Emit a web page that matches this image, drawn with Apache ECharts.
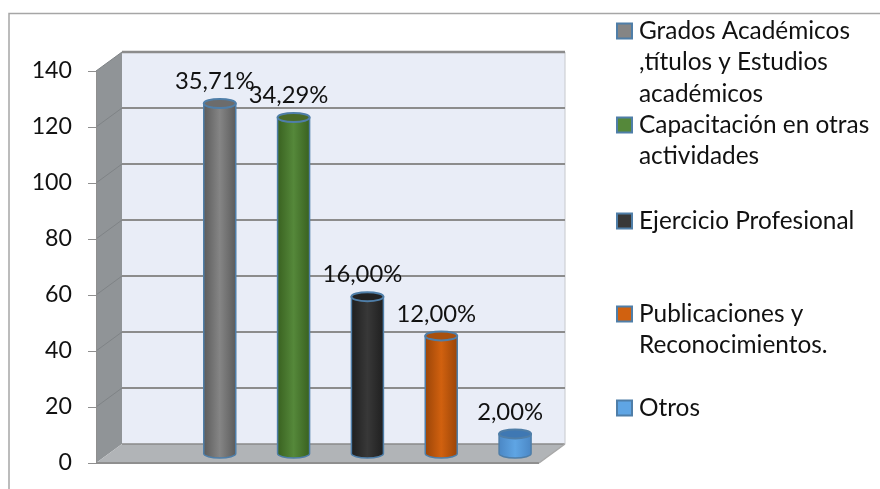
<!DOCTYPE html>
<html><head><meta charset="utf-8">
<style>html,body{margin:0;padding:0;background:#fff}#c{width:880px;height:489px}</style>
<script src="https://cdn.jsdelivr.net/npm/echarts@6/dist/echarts.min.js"></script>
</head><body><div id="c"></div>
<script>
const categories = ['', 'Grados', 'Capacitación', 'Ejercicio', 'Publicaciones', 'Otros'];
const names = ['Grados Académicos\n,títulos y Estudios\nacadémicos', 'Capacitación en otras\nactividades', 'Ejercicio Profesional', 'Publicaciones y\nReconocimientos.', 'Otros'];
const values = [125, 120, 56, 42, 7];
const percents = ['35,71%', '34,29%', '16,00%', '12,00%', '2,00%'];
const yTicks = [0, 20, 40, 60, 80, 100, 120, 140];
const legendRows = [31, 125, 221, 314, 408];
const colors = ['#858585', '#55883a', '#383838', '#d1610f', '#5fa5e4'];
const edges = ['#5a5a5a', '#38601f', '#1e1e1e', '#994408', '#4a86c4'];
const tops = ['#6c6c6c', '#4a6a28', '#222222', '#a8500f', '#3f78b3'];
const DX = 26, DY = -19, LH = 31.5, OUTLINE = '#4f7ea8';

function scene(params, api) {
  const cs = params.coordSys, v = api.value(0);
  const xL = cs.x, xR = cs.x + cs.width;
  const y = api.coord([0, v])[1];
  const ch = [];
  const line = (x1, y1, x2, y2, stroke, w) => ({type:'line', shape:{x1,y1,x2,y2}, style:{stroke, lineWidth:w}});
  if (v === 0) {
    const yTop = api.coord([0, 140])[1];
    ch.push({type:'polygon', shape:{points:[[xL+DX,yTop+DY],[xR+DX,yTop+DY],[xR+DX,y+DY],[xL+DX,y+DY]]}, style:{fill:'#e9edf7'}});
    ch.push({type:'polygon', shape:{points:[[xL,yTop],[xL+DX,yTop+DY],[xL+DX,y+DY],[xL,y]]}, style:{fill:'#909497'}});
    ch.push({type:'polygon', shape:{points:[[xL,y],[xL+DX,y+DY],[xR+DX,y+DY],[xR,y]]}, style:{fill:'#b1b4b7'}});
    ch.push(line(xL, y, xR, y, '#8f8f8f', 2));
    ch.push(line(xL+DX, y+DY, xR+DX, y+DY, '#8a8a8a', 1.5));
    ch.push(line(xR, y, xR+DX, y+DY, '#a8a8a8', 1.5));
    ch.push(line(xR+DX, yTop+DY, xR+DX, y+DY, '#c6c8cc', 1));
  } else {
    ch.push(line(xL+DX, y+DY, xR+DX, y+DY, '#8c8c8c', v === 140 ? 2.5 : 2));
    ch.push(line(xL, y, xL+DX, y+DY, '#7f8386', 1));
  }
  return {type:'group', children:ch};
}

function cylinder(i) {
  return function (params, api) {
    const cat = api.value(0), val = api.value(1);
    const top = api.coord([cat, val]), base = api.coord([cat, 0]);
    const cx = top[0] + DX/2, yT = top[1] + DY/2, yB = base[1] + DY/2;
    const hw = 16, ry = 4.5;
    const grad = {type:'linear', x:0, y:0, x2:1, y2:0, colorStops:[
      {offset:0, color:edges[i]}, {offset:0.5, color:colors[i]}, {offset:1, color:edges[i]}]};
    const body = `M${cx-hw} ${yT}L${cx-hw} ${yB}A${hw} ${ry} 0 0 0 ${cx+hw} ${yB}L${cx+hw} ${yT}Z`;
    return {type:'group', children:[
      {type:'path', shape:{pathData:body, layout:'none'}, style:{fill:grad, stroke:OUTLINE, lineWidth:1.5}},
      {type:'ellipse', shape:{cx, cy:yT, rx:hw, ry}, style:{fill:tops[i], stroke:OUTLINE, lineWidth:2}},
      {type:'text', x:cx-5, y:yT-22, style:{text:percents[i], align:'center', verticalAlign:'middle', fontFamily:'Lato', fontSize:23.8, fill:'#111'}}
    ]};
  };
}

const series = [{
  type:'custom', name:'scene', silent:true, z:1, clip:false,
  data:yTicks.map(t => [t]), encode:{y:0}, renderItem:scene
}].concat(values.map((v, i) => ({
  type:'custom', name:names[i], z:3, clip:false,
  itemStyle:{color:colors[i], borderColor:OUTLINE, borderWidth:1},
  data:[[i+1, v]], encode:{x:0, y:1}, renderItem:cylinder(i)
})));

const legends = names.map((n, i) => {
  const extra = n.split('\n').length - 1;
  return {
    data:[{name:n, icon:'rect'}], orient:'vertical', left:616, top:legendRows[i] - LH/2 - extra*LH,
    padding:0, itemWidth:15, itemHeight:15, itemGap:0, selectedMode:false,
    formatter: s => '\n'.repeat(extra) + s,
    textStyle:{fontFamily:'Lato', fontSize:24.4, lineHeight:LH, color:'#111', padding:[0,0,0,2]}
  };
});

const chart = echarts.init(document.getElementById('c'), null, {renderer:'canvas'});
chart.setOption({
  animation:false,
  backgroundColor:'#fff',
  graphic:[{type:'polyline', shape:{points:[[9,489],[9,13.5],[880,13.5]]}, style:{fill:'none', stroke:'#a6a6a6', lineWidth:1.5}}],
  grid:{left:96, right:341, top:71, bottom:26},
  xAxis:{type:'category', data:categories, axisLabel:{show:false}, axisTick:{show:false}, axisLine:{show:false}, splitLine:{show:false}},
  yAxis:{type:'value', min:0, max:140, interval:20, z:2,
    axisLine:{show:true, lineStyle:{color:'#8f8f8f', width:1}},
    axisTick:{show:true, length:8, lineStyle:{color:'#8f8f8f'}},
    splitLine:{show:false},
    axisLabel:{fontFamily:'Lato', fontSize:23.2, color:'#111', margin:24}},
  legend:legends,
  series
});
</script></body></html>
